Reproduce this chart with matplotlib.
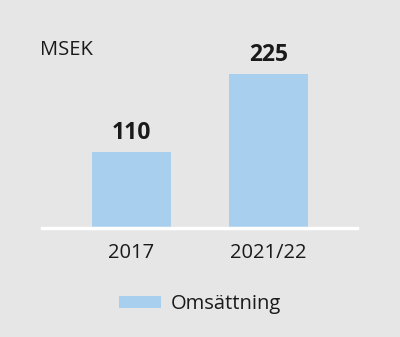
import matplotlib.pyplot as plt
from matplotlib.patches import Patch

categories = ['2017', '2021/22']
values = [110, 225]
series_name = 'Omsättning'
unit = 'MSEK'

bg = '#e6e6e6'
bar_color = '#a8d0ee'
text_color = '#1a1a1a'

plt.rcParams['font.family'] = ['Open Sans', 'DejaVu Sans']

fig = plt.figure(figsize=(4, 3.37), dpi=100, facecolor=bg)
ax = fig.add_axes([42 / 400, 109.5 / 337, 315 / 400, 170.6 / 337])
ax.set_facecolor(bg)

x = list(range(len(categories)))
ax.bar(x, values, width=0.577, color=bar_color, zorder=2)
for xi, v in zip(x, values):
    ax.annotate(str(v), (xi, v), xytext=(0, 9.5), textcoords='offset points',
                ha='center', va='baseline', fontsize=16.5,
                fontweight='bold', color=text_color)

ax.set_xlim(-0.653, 1.646)
ax.set_ylim(0, 250)
for s in ['top', 'right', 'left']:
    ax.spines[s].set_visible(False)
ax.spines['bottom'].set_color('white')
ax.spines['bottom'].set_linewidth(2.5)
ax.spines['bottom'].set_zorder(3)
ax.set_yticks([])
ax.set_xticks(x)
ax.set_xticklabels(categories, fontsize=14.5, color=text_color)
ax.tick_params(axis='x', length=0, pad=11.5)

fig.text(40 / 400, 1 - 50 / 337, unit, ha='left', va='center', fontsize=14.5,
         color=text_color)

handle = Patch(facecolor=bar_color, edgecolor='none')
fig.legend([handle], [series_name], loc='center', bbox_to_anchor=(200 / 400, 1 - 304 / 337),
           frameon=False, fontsize=14.5, handlelength=2.09, handleheight=0.5,
           handletextpad=0.5, labelcolor=text_color)

fig.savefig('out.png', dpi=100, facecolor=bg)
